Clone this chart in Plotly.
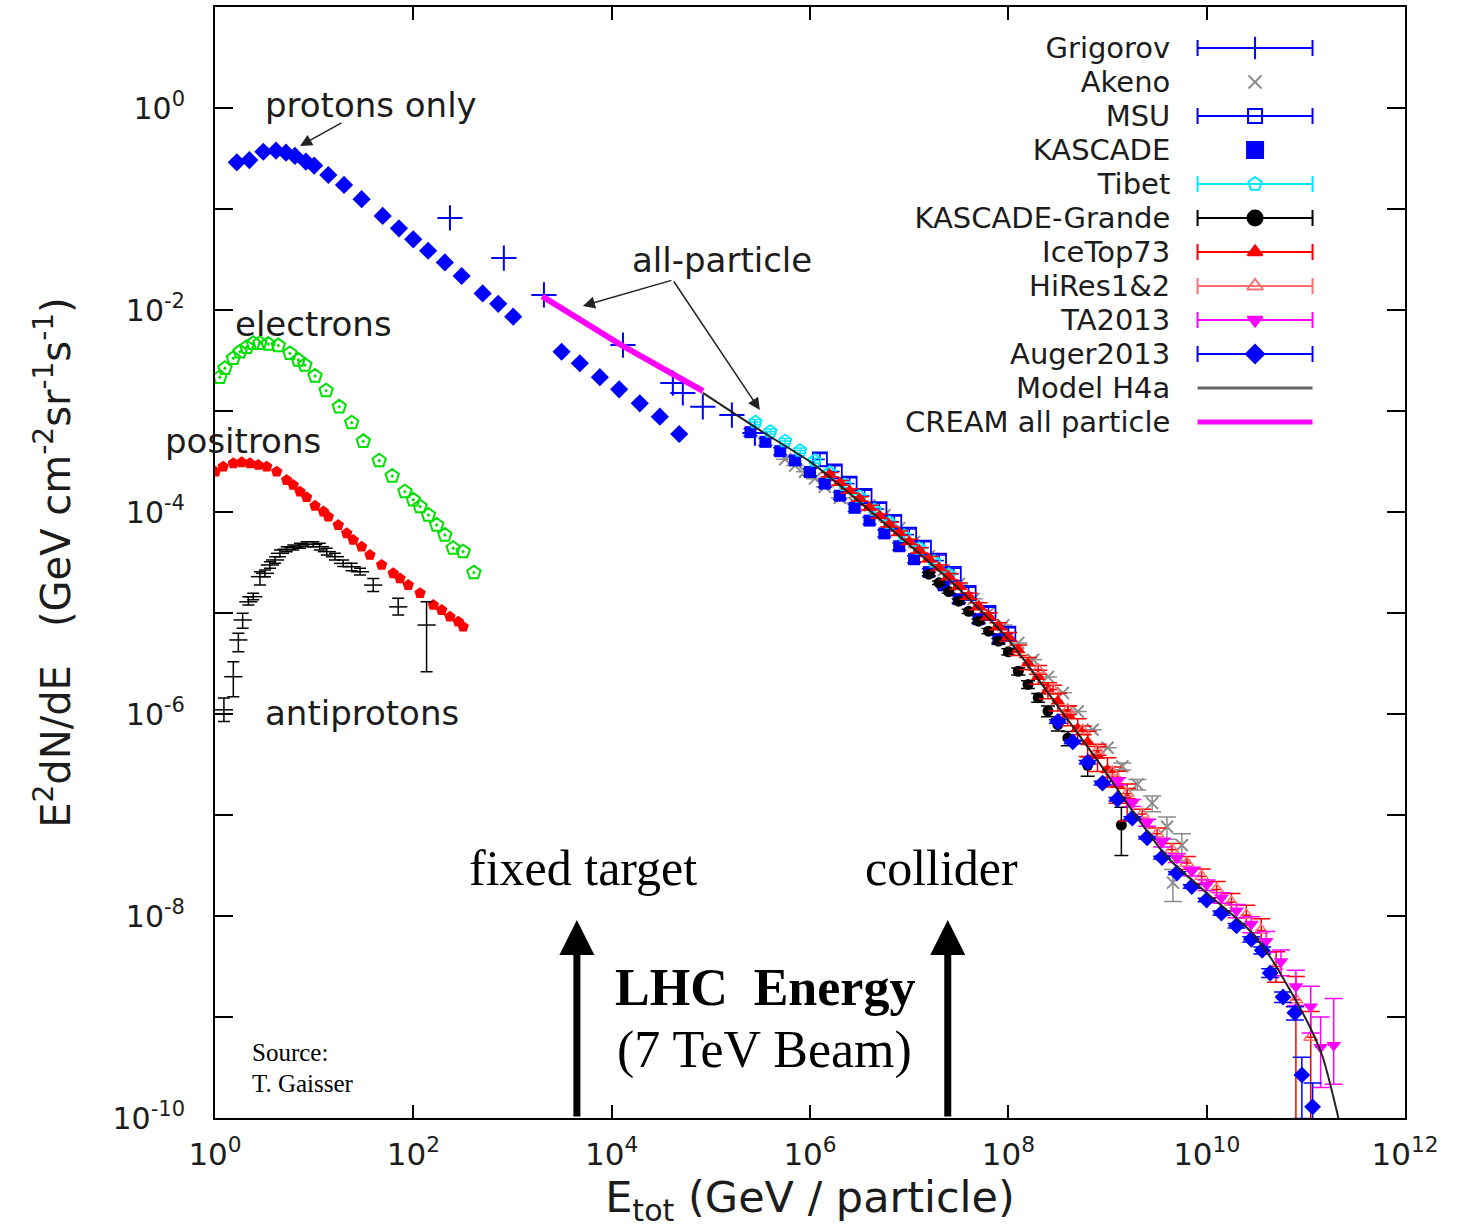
import numpy as np
import plotly.graph_objects as go

# ---------------- data (E in GeV, flux E^2 dN/dE in GeV cm^-2 sr^-1 s^-1) ----------------
protons_e = [1.66, 2.22, 3.07, 4.12, 5.20, 6.40, 8.26, 10.0, 13.9, 20.0, 30.1, 49.1, 71.6, 99.8,
             141, 208, 307, 500, 718, 1016, 3126, 4775, 7603, 1.19e4, 1.92e4, 3.06e4, 4.80e4]
protons_f = [0.290, 0.305, 0.369, 0.378, 0.361, 0.335, 0.294, 0.269, 0.217, 0.173, 0.125, 0.0853,
             0.0644, 0.0501, 0.0386, 0.0296, 0.0217, 0.0146, 0.0115, 0.00859, 3.86e-3, 2.97e-3,
             2.16e-3, 1.64e-3, 1.19e-3, 8.79e-4, 5.92e-4]

elec_e = [1.12, 1.26, 1.53, 1.79, 2.09, 2.43, 2.84, 3.44, 4.35, 5.70, 6.92, 8.07, 10.2, 13.2, 17.9,
          23.9, 31.3, 45.3, 61.2, 82.2, 99.8, 117, 142, 172, 208, 252, 318, 408]
elec_f = [2.16e-3, 2.65e-3, 3.33e-3, 3.86e-3, 4.28e-3, 4.68e-3, 4.68e-3, 4.60e-3, 4.44e-3, 3.72e-3,
          3.20e-3, 2.85e-3, 2.22e-3, 1.59e-3, 1.10e-3, 7.66e-4, 5.01e-4, 3.22e-4, 2.27e-4, 1.59e-4,
          1.32e-4, 1.13e-4, 9.33e-5, 7.43e-5, 5.92e-5, 4.38e-5, 4.05e-5, 2.51e-5]

posi_e = [1.01, 1.21, 1.53, 1.86, 2.25, 2.73, 3.32, 4.19, 5.28, 6.15, 7.19, 8.39, 10.2, 12.4, 13.9,
          17.5, 21.3, 24.8, 30.1, 36.5, 47.9, 62.7, 73.3, 88.9, 117, 159, 193, 234, 284, 318]
posi_f = [2.51e-4, 2.81e-4, 3.03e-4, 3.10e-4, 3.03e-4, 2.92e-4, 2.81e-4, 2.51e-4, 2.07e-4, 1.85e-4,
          1.59e-4, 1.40e-4, 1.15e-4, 1.01e-4, 8.97e-5, 7.43e-5, 6.15e-5, 5.28e-5, 4.53e-5, 3.75e-5,
          2.99e-5, 2.47e-5, 2.20e-5, 1.89e-5, 1.57e-5, 1.20e-5, 1.07e-5, 9.18e-6, 8.20e-6, 7.31e-6]

pbar_e = [1.23, 1.53, 1.72, 1.90, 2.17, 2.43, 2.84, 3.19, 3.58, 4.03, 4.52, 5.28, 6.15, 7.19, 8.40,
          9.79, 11.4, 13.4, 16.2, 19.6, 23.9, 29.0, 39.4, 70.4, 136]
pbar_f = [1.10e-6, 2.34e-6, 5.41e-6, 8.53e-6, 1.29e-5, 1.45e-5, 2.29e-5, 2.47e-5, 2.99e-5, 3.35e-5,
          3.90e-5, 4.28e-5, 4.47e-5, 4.60e-5, 4.79e-5, 4.79e-5, 4.54e-5, 4.05e-5, 3.61e-5, 3.10e-5,
          2.87e-5, 2.56e-5, 1.89e-5, 1.15e-5, 7.60e-6]
pbar_hi = [1.44e-6, 3.30e-6, 6.30e-6, 9.93e-6, 1.45e-5, 1.57e-5, 2.56e-5, 2.67e-5, 3.22e-5, 3.61e-5,
           4.21e-5, 4.54e-5, 4.71e-5, 4.90e-5, 5.08e-5, 5.08e-5, 4.90e-5, 4.37e-5, 3.90e-5, 3.35e-5,
           3.10e-5, 2.77e-5, 2.20e-5, 1.40e-5, 1.29e-5]
pbar_lo = [8.45e-7, 1.48e-6, 4.14e-6, 7.06e-6, 1.20e-5, 1.35e-5, 1.89e-5, 2.29e-5, 2.77e-5, 3.10e-5,
           3.61e-5, 4.05e-5, 4.21e-5, 4.37e-5, 4.54e-5, 4.54e-5, 4.21e-5, 3.75e-5, 3.35e-5, 2.88e-5,
           2.62e-5, 2.38e-5, 1.63e-5, 9.55e-6, 2.62e-6]

grig_e = [234, 818, 2075, 1.30e4, 4.14e4, 5.22e4, 8.30e4, 1.63e5, 2.78e5]
grig_f = [8.15e-2, 3.27e-2, 1.41e-2, 4.50e-3, 1.89e-3, 1.51e-3, 1.10e-3, 9.12e-4, 6.05e-4]

cream_e = [1.99e3, 1.21e4, 8.36e4]
cream_f = [1.37e-2, 4.58e-3, 1.57e-3]

model_e = [8.32e4, 3.09e5, 1.05e6, 3.16e6, 9.55e6, 2.75e7, 9.55e7, 3.31e8, 8.32e8, 1.78e9, 3.98e9,
           1.0e10, 2.69e10, 4.37e10, 6.92e10, 1.10e11, 1.48e11, 2.04e11, 2.24e11]
model_f = [1.51e-3, 6.49e-4, 3.05e-4, 1.26e-4, 4.93e-5, 1.98e-5, 5.78e-6, 1.12e-6, 3.24e-7, 1.10e-7,
           3.84e-8, 1.69e-8, 7.26e-9, 3.93e-9, 1.85e-9, 7.96e-10, 4.02e-10, 1.20e-10, 7.94e-11]

tibet_e = [2.82e5, 3.98e5, 5.62e5, 7.94e5, 1.12e6, 1.58e6, 2.24e6, 3.16e6, 4.47e6, 6.31e6, 8.91e6,
           1.26e7, 1.78e7, 2.51e7]
tibet_f = [7.76e-4, 6.25e-4, 5.04e-4, 4.06e-4, 3.23e-4, 2.45e-4, 1.86e-4, 1.42e-4, 1.05e-4, 7.83e-5,
           5.82e-5, 4.34e-5, 3.23e-5, 2.40e-5]

kas_e = [2.51e5, 3.55e5, 5.01e5, 7.08e5, 1.0e6, 1.41e6, 2.0e6, 2.82e6, 3.98e6, 5.62e6, 7.94e6,
         1.12e7, 1.58e7, 2.24e7, 3.16e7, 5.01e7, 7.94e7]
kas_f = [6.17e-4, 4.95e-4, 4.00e-4, 3.24e-4, 2.49e-4, 1.91e-4, 1.45e-4, 1.10e-4, 8.22e-5, 6.14e-5,
         4.58e-5, 3.41e-5, 2.54e-5, 1.88e-5, 1.37e-5, 8.69e-6, 5.51e-6]

msu_e = [1.26e6, 1.78e6, 2.51e6, 3.55e6, 5.01e6, 7.08e6, 1.0e7, 1.41e7, 2.0e7, 2.82e7, 3.98e7,
         6.31e7, 1.0e8]
msu_f = [3.32e-4, 2.52e-4, 1.91e-4, 1.44e-4, 1.07e-4, 8.0e-5, 5.97e-5, 4.44e-5, 3.30e-5, 2.44e-5,
         1.58e-5, 1.0e-5, 6.25e-6]

ice_e = [1.58e6, 2.0e6, 2.51e6, 3.16e6, 3.98e6, 5.01e6, 6.31e6, 7.94e6, 1.0e7, 1.26e7, 1.58e7, 2.0e7,
         2.51e7, 3.16e7, 3.98e7, 5.01e7, 6.31e7, 7.94e7, 1.0e8, 1.26e8, 1.58e8, 2.0e8, 2.51e8, 3.16e8,
         3.98e8, 5.01e8, 6.31e8, 7.94e8, 1.0e9, 1.26e9, 1.58e9]
ice_f = [2.35e-4, 1.95e-4, 1.62e-4, 1.35e-4, 1.11e-4, 9.12e-5, 7.52e-5, 6.18e-5, 5.08e-5, 4.17e-5,
         3.42e-5, 2.81e-5, 2.30e-5, 1.85e-5, 1.47e-5, 1.17e-5, 9.33e-6, 7.43e-6, 5.83e-6, 4.31e-6,
         3.18e-6, 2.34e-6, 1.73e-6, 1.34e-6, 9.82e-7, 7.19e-7, 5.27e-7, 3.86e-7, 2.79e-7, 2.01e-7,
         1.45e-7]
ice_rel = [0.05, 0.05, 0.05, 0.05, 0.05, 0.05, 0.05, 0.05, 0.06, 0.06, 0.06, 0.06, 0.07, 0.07, 0.07,
           0.08, 0.08, 0.08, 0.10, 0.12, 0.14, 0.16, 0.18, 0.20, 0.22, 0.25, 0.28, 0.30, 0.32, 0.35, 0.40]

kg_e = [1.58e7, 2.0e7, 2.51e7, 3.16e7, 3.98e7, 5.01e7, 6.31e7, 7.94e7, 1.0e8, 1.26e8, 1.58e8, 2.0e8,
        2.51e8, 3.16e8, 3.98e8, 6.31e8, 1.38e9]
kg_f = [2.42e-5, 1.99e-5, 1.63e-5, 1.31e-5, 1.04e-5, 8.30e-6, 6.61e-6, 5.26e-6, 4.13e-6, 2.65e-6,
        1.96e-6, 1.45e-6, 1.07e-6, 7.87e-7, 5.78e-7, 3.10e-7, 7.96e-8]
kg_rel = [0.04, 0.04, 0.04, 0.05, 0.05, 0.05, 0.06, 0.06, 0.07, 0.08, 0.09, 0.10, 0.12, 0.14, 0.16,
          0.22, 0.50]

ak_e = [5.62e5, 7.08e5, 8.91e5, 1.12e6, 1.41e6, 2.0e6, 2.82e6, 3.98e6, 5.62e6, 7.94e6, 1.12e7, 1.58e7,
        2.24e7, 3.16e7, 4.47e7, 6.31e7, 8.91e7, 1.26e8, 1.78e8, 2.51e8, 3.55e8, 5.01e8, 7.08e8, 1.0e9,
        1.41e9, 2.0e9, 2.82e9, 3.98e9, 4.57e9, 5.62e9]
ak_f = [3.33e-4, 2.88e-4, 2.50e-4, 2.14e-4, 1.78e-4, 1.38e-4, 1.23e-4, 1.16e-4, 9.29e-5, 6.93e-5,
        5.05e-5, 3.66e-5, 2.66e-5, 1.94e-5, 1.38e-5, 1.0e-5, 7.59e-6, 5.06e-6, 3.44e-6, 2.33e-6,
        1.62e-6, 1.06e-6, 6.98e-7, 4.63e-7, 3.03e-7, 2.01e-7, 1.31e-7, 7.66e-8, 2.14e-8, 5.01e-8]
ak_rel = [0, 0, 0, 0, 0, 0, 0, 0, 0, 0, 0, 0, 0, 0, 0, 0, 0, 0, 0, 0, 0, 0, 0, 0,
          0.08, 0.12, 0.18, 0.25, 0.35, 0.30]

hr_e = [2.0e8, 2.82e8, 3.98e8, 5.62e8, 7.94e8, 1.12e9, 1.58e9, 2.24e9, 3.16e9, 4.47e9, 6.31e9, 8.91e9,
        1.26e10, 1.78e10, 2.51e10, 3.55e10, 5.01e10, 7.94e10, 1.12e11]
hr_f = [2.75e-6, 1.75e-6, 1.10e-6, 6.92e-7, 4.34e-7, 2.66e-7, 1.63e-7, 1.02e-7, 6.53e-8, 4.54e-8,
        3.35e-8, 2.47e-8, 1.83e-8, 1.37e-8, 1.02e-8, 7.21e-9, 3.16e-9, 1.48e-9, 6.31e-10]
hr_up = [0.1, 0.1, 0.1, 0.1, 0.1, 0.12, 0.12, 0.12, 0.14, 0.15, 0.16, 0.18, 0.2, 0.22, 0.25, 0.3, 0.4,
         0.7, 0.8]
hr_dn = [0.1, 0.1, 0.1, 0.1, 0.1, 0.11, 0.11, 0.11, 0.12, 0.13, 0.14, 0.15, 0.17, 0.18, 0.2, 0.23, 0.3,
         0.95, 0.9]

ta_e = [1.26e9, 1.78e9, 2.51e9, 3.55e9, 5.01e9, 7.08e9, 1.0e10, 1.41e10, 2.0e10, 2.82e10, 3.98e10,
        5.62e10, 7.94e10, 1.12e11, 1.41e11, 1.91e11]
ta_f = [2.16e-7, 1.32e-7, 8.41e-8, 5.36e-8, 3.76e-8, 2.77e-8, 2.03e-8, 1.52e-8, 1.13e-8, 8.32e-9,
        5.62e-9, 3.55e-9, 2.0e-9, 1.26e-9, 5.01e-10, 5.25e-10]
ta_up = [0.08, 0.08, 0.08, 0.1, 0.1, 0.1, 0.12, 0.12, 0.15, 0.18, 0.25, 0.3, 0.45, 0.6, 1.0, 1.9]
ta_dn = [0.08, 0.08, 0.08, 0.1, 0.1, 0.1, 0.12, 0.12, 0.15, 0.18, 0.22, 0.28, 0.35, 0.45, 0.6, 0.59]

au_e = [3.16e8, 4.47e8, 6.31e8, 8.91e8, 1.26e9, 1.78e9, 2.51e9, 3.55e9, 5.01e9, 7.08e9, 1.0e10,
        1.41e10, 2.0e10, 2.82e10, 3.63e10, 4.37e10, 5.89e10, 7.76e10, 9.12e10, 1.17e11]
au_f = [8.43e-7, 5.30e-7, 3.33e-7, 2.07e-7, 1.43e-7, 9.33e-8, 5.96e-8, 3.79e-8, 2.66e-8, 1.96e-8,
        1.44e-8, 1.07e-8, 8.02e-9, 5.89e-9, 4.57e-9, 2.73e-9, 1.58e-9, 1.10e-9, 2.67e-10, 1.29e-10]
au_up = [0.04, 0.04, 0.04, 0.04, 0.04, 0.03, 0.03, 0.03, 0.03, 0.04, 0.04, 0.05, 0.05, 0.06, 0.08,
         0.1, 0.12, 0.15, 0.5, 0.72]
au_dn = [0.04, 0.04, 0.04, 0.04, 0.04, 0.03, 0.03, 0.03, 0.03, 0.04, 0.04, 0.05, 0.05, 0.06, 0.08,
         0.1, 0.12, 0.15, 0.63, 0.5]

lhc_arrow_e = [4.46e3, 2.45e7]

x_tick_exp = [0, 2, 4, 6, 8, 10, 12]
y_label_exp = [-10, -8, -6, -4, -2, 0]
y_minor_exp = [-9, -7, -5, -3, -1]

legend_names = ["Grigorov", "Akeno", "MSU", "KASCADE", "Tibet", "KASCADE-Grande", "IceTop73",
                "HiRes1&amp;2", "TA2013", "Auger2013", "Model H4a", "CREAM all particle"]

# ---------------- styles ----------------
BLUE = "#0000ff"
RED = "#ff0000"
GREEN = "#00e000"
CYAN = "#00e8ff"
MAGENTA = "#ff00ff"
GRAY = "#8c8c8c"
HIRES = "#ff7070"
TXT = "#1c1c1c"
SANS = "DejaVu Sans"
SERIF = "Liberation Serif"

fig = go.Figure()


def pts(x, y, **kw):
    fig.add_trace(go.Scatter(x=x, y=y, mode="markers", showlegend=False, **kw))


def yerr(f, up, dn, color, width=6, thick=1.5):
    f = np.asarray(f, dtype=float)
    return dict(type="data", symmetric=False, array=f * np.asarray(up), arrayminus=f * np.asarray(dn),
                color=color, thickness=thick, width=width)


pts(protons_e, protons_f, name="protons", marker=dict(symbol="diamond", size=14, color=BLUE))
pts(elec_e, elec_f, name="electrons",
    marker=dict(symbol="pentagon-open-dot", size=14, color=GREEN, line=dict(color=GREEN, width=2)))
pts(posi_e, posi_f, name="positrons", marker=dict(symbol="pentagon", size=12, color=RED))
pb = np.asarray(pbar_f)
pts(pbar_e, pbar_f, name="antiprotons",
    marker=dict(symbol="line-ew", size=13, color="black", line=dict(color="black", width=1.5)),
    error_y=dict(type="data", symmetric=False, array=np.asarray(pbar_hi) - pb,
                 arrayminus=pb - np.asarray(pbar_lo), color="black", thickness=1.5, width=6))

pts(grig_e, grig_f, name="Grigorov",
    marker=dict(symbol="cross-thin", size=18, color=BLUE, line=dict(color=BLUE, width=2)))
pts(ak_e, ak_f, name="Akeno",
    marker=dict(symbol="x-thin", size=12, color=GRAY, line=dict(color=GRAY, width=2)),
    error_y=yerr(ak_f, ak_rel, ak_rel, GRAY, width=9))
pts(msu_e, msu_f, name="MSU",
    marker=dict(symbol="square-open", size=14, color=BLUE, line=dict(color=BLUE, width=1.8)),
    error_y=dict(type="percent", value=14, color=BLUE, thickness=1.5, width=7),
    error_x=dict(type="percent", value=12, color=BLUE, thickness=1.5, width=0))
pts(kas_e, kas_f, name="KASCADE", marker=dict(symbol="square", size=12, color=BLUE),
    error_y=dict(type="percent", value=8, color=BLUE, thickness=1.5, width=7))
pts(tibet_e, tibet_f, name="Tibet",
    marker=dict(symbol="pentagon-open", size=13, color=CYAN, line=dict(color=CYAN, width=1.8)),
    error_y=dict(type="percent", value=6, color=CYAN, thickness=1.5, width=6),
    error_x=dict(type="percent", value=12, color=CYAN, thickness=1.5, width=0))
pts(kg_e, kg_f, name="KASCADE-Grande", marker=dict(symbol="circle", size=11, color="black"),
    error_y=yerr(kg_f, kg_rel, kg_rel, "black", width=7))
pts(ice_e, ice_f, name="IceTop73", marker=dict(symbol="triangle-up", size=13, color=RED),
    error_y=yerr(ice_f, ice_rel, ice_rel, RED, width=9),
    error_x=dict(type="percent", value=12, color=RED, thickness=2, width=0))
pts(hr_e, hr_f, name="HiRes1&2",
    marker=dict(symbol="triangle-up-open", size=12, color=HIRES, line=dict(color=HIRES, width=1.5)),
    error_y=yerr(hr_f, hr_up, hr_dn, RED, width=9),
    error_x=dict(type="percent", value=12, color=RED, thickness=1.5, width=0))
pts(ta_e, ta_f, name="TA2013", marker=dict(symbol="triangle-down", size=13, color=MAGENTA),
    error_y=yerr(ta_f, ta_up, ta_dn, MAGENTA, width=9),
    error_x=dict(type="percent", value=12, color=MAGENTA, thickness=1.5, width=0))
pts(au_e, au_f, name="Auger2013", marker=dict(symbol="diamond", size=13, color=BLUE),
    error_y=yerr(au_f, au_up, au_dn, BLUE, width=9),
    error_x=dict(type="percent", value=10, color=BLUE, thickness=2, width=0))

fig.add_trace(go.Scatter(x=model_e, y=model_f, mode="lines", name="Model H4a", showlegend=False,
                         line=dict(color="#222222", width=2, shape="spline", smoothing=0.6)))
fig.add_trace(go.Scatter(x=cream_e, y=cream_f, mode="lines", name="CREAM all particle",
                         showlegend=False, line=dict(color=MAGENTA, width=6)))

# ---------------- hand-drawn legend (text left, sample right) ----------------
LEG_ROW_PX = 34           # row pitch in pixels
PLOT_H_PX = 1111          # plot-area height in pixels
LEG_TOP = 0.9631
LEG_STEP = LEG_ROW_PX / PLOT_H_PX
LEG_SYM_X = 0.874
LEG_HALF = 0.0483
LEG_TEXT_X = 0.8042
LEG_FONT_PX = 29

leg_styles = [
    dict(sym="line-ns", size=16, color=BLUE, bar=True, fill=BLUE),
    dict(sym="x-thin", size=13, color=GRAY, bar=False, fill=GRAY),
    dict(sym="square-open", size=14, color=BLUE, bar=True, fill=BLUE),
    dict(sym="square", size=16, color=BLUE, bar=False, fill=BLUE),
    dict(sym="pentagon-open", size=14, color=CYAN, bar=True, fill=CYAN),
    dict(sym="circle", size=15, color="black", bar=True, fill="black"),
    dict(sym="triangle-up", size=13, color=RED, bar=True, fill=RED),
    dict(sym="triangle-up-open", size=14, color=HIRES, bar=True, fill=HIRES),
    dict(sym="triangle-down", size=13, color=MAGENTA, bar=True, fill=MAGENTA),
    dict(sym="diamond", size=14, color=BLUE, bar=True, fill=BLUE),
    dict(line="#666666", width=3),
    dict(line=MAGENTA, width=5),
]

for i, st in enumerate(leg_styles):
    yy = LEG_TOP - i * LEG_STEP
    if "line" in st:
        fig.add_trace(go.Scatter(x=[LEG_SYM_X - LEG_HALF, LEG_SYM_X + LEG_HALF], y=[yy, yy],
                                 mode="lines", xaxis="x2", yaxis="y2", showlegend=False,
                                 line=dict(color=st["line"], width=st["width"]), hoverinfo="skip"))
    else:
        kw = {}
        if st["bar"]:
            kw["error_x"] = dict(type="constant", value=LEG_HALF, color=st["color"], thickness=2,
                                 width=8)
        fig.add_trace(go.Scatter(x=[LEG_SYM_X], y=[yy], mode="markers", xaxis="x2", yaxis="y2",
                                 showlegend=False, hoverinfo="skip",
                                 marker=dict(symbol=st["sym"], size=st["size"], color=st["fill"],
                                             line=dict(color=st["color"], width=2)), **kw))

legend_block = "<br>".join(f'<span style="font-size:{LEG_FONT_PX}px">{n}</span>' for n in legend_names)
fig.add_annotation(xref="paper", yref="paper", x=LEG_TEXT_X,
                   y=LEG_TOP - (len(legend_names) - 1) / 2 * LEG_STEP,
                   text=legend_block, showarrow=False, xanchor="right", yanchor="middle",
                   align="right", font=dict(family=SANS, size=LEG_ROW_PX / 1.3, color=TXT))

# ---------------- labels & arrows (positions in log10 axis units / paper) ----------------
labels = [
    ("protons only", "x", 0.484, "y", 0.03),
    ("electrons", "x", 0.181, "y", -2.139),
    ("positrons", "paper", -0.0437, "paper", 0.6094),
    ("antiprotons", "x", 0.484, "y", -5.990),
    ("all-particle", "x", 4.183, "y", -1.505),
]
for txt, xr, lx, yr, ly in labels:
    fig.add_annotation(x=lx, y=ly, xref=xr, yref=yr, text=txt, showarrow=False, xanchor="left",
                       yanchor="middle", font=dict(family=SANS, size=34, color=TXT))

thin_arrows = [(0.857, -0.376, 43, -24), (3.710, -1.960, 90, -26), (5.494, -2.990, -87, -130)]
for hx, hy, axp, ayp in thin_arrows:
    fig.add_annotation(x=hx, y=hy, xref="x", yref="y", ax=axp, ay=ayp, text="", showarrow=True,
                       arrowhead=2, arrowsize=1.6, arrowwidth=1.5, arrowcolor="#222222")

for e in lhc_arrow_e:
    fig.add_annotation(x=np.log10(e), y=-8.04, xref="x", yref="y", ax=0, ay=198, text="",
                       showarrow=True, arrowhead=2, arrowsize=1.0, arrowwidth=7, arrowcolor="black")

serif_labels = [
    ("fixed target", 3.710, -7.525, 50),
    ("collider", 7.329, -7.525, 50),
    ("<b>LHC&nbsp;&nbsp;Energy</b>", 5.544, -8.703, 52),
    ("(7 TeV Beam)", 5.544, -9.327, 52),
]
for txt, lx, ly, sz in serif_labels:
    fig.add_annotation(x=lx, y=ly, xref="x", yref="y", text=txt, showarrow=False, xanchor="center",
                       yanchor="middle", font=dict(family=SERIF, size=sz, color="black"))

for txt, ly in [("Source:", -9.347), ("T. Gaisser", -9.663)]:
    fig.add_annotation(x=0.353, y=ly, xref="x", yref="y", text=txt, showarrow=False, xanchor="left",
                       yanchor="middle", font=dict(family=SERIF, size=25, color="black"))

# ---------------- axes ----------------
fig.update_layout(
    width=1462, height=1231,
    margin=dict(l=215, r=57, t=7, b=113),
    paper_bgcolor="white", plot_bgcolor="white",
    showlegend=False,
    xaxis=dict(type="log", range=[0, 12], tickvals=[10.0 ** k for k in x_tick_exp],
               ticktext=[f"10<sup>{k}</sup>" for k in x_tick_exp],
               ticks="inside", ticklen=13, tickwidth=1.5, tickcolor="black",
               showline=True, linewidth=2, linecolor="black", mirror="ticks",
               showgrid=False, zeroline=False, automargin=False, ticklabelstandoff=8,
               tickfont=dict(family=SANS, size=31, color=TXT),
               title=dict(text="E<sub>tot</sub> (GeV / particle)", standoff=4,
                          font=dict(family=SANS, size=43, color=TXT))),
    yaxis=dict(type="log", range=[-10, 1], tickvals=[10.0 ** k for k in y_label_exp],
               ticktext=[f"10<sup>{k}</sup>" for k in y_label_exp],
               ticks="inside", ticklen=18, tickwidth=1.5, tickcolor="black",
               minor=dict(tickvals=[10.0 ** k for k in y_minor_exp], ticks="inside", ticklen=18,
                          tickwidth=1.5, tickcolor="black", showgrid=False),
               showline=True, linewidth=2, linecolor="black", mirror="ticks",
               showgrid=False, zeroline=False, automargin=False, ticklabelstandoff=22,
               tickfont=dict(family=SANS, size=30, color=TXT),
               title=dict(text="E<sup>2</sup>dN/dE&nbsp;&nbsp;&nbsp;(GeV cm<sup>-2</sup>sr<sup>-1</sup>s<sup>-1</sup>)",
                          standoff=30, font=dict(family=SANS, size=40, color=TXT))),
    xaxis2=dict(overlaying="x", anchor="y2", range=[0, 1], visible=False, fixedrange=True),
    yaxis2=dict(overlaying="y", anchor="x2", range=[0, 1], visible=False, fixedrange=True),
)

fig.write_html("out.html")
